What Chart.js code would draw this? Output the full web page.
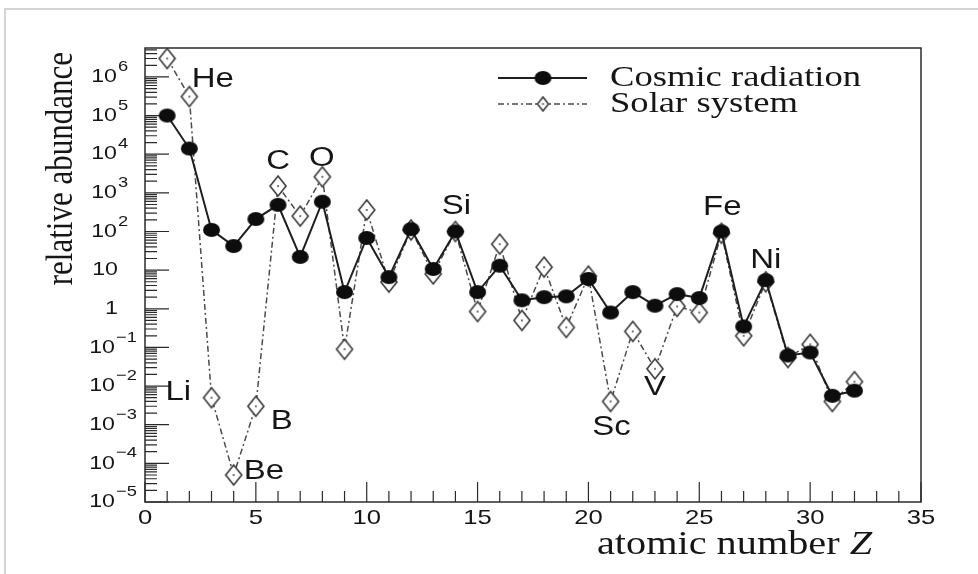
<!DOCTYPE html>
<html>
<head>
<meta charset="utf-8">
<script src="https://cdn.jsdelivr.net/npm/chart.js@4.4.1/dist/chart.umd.min.js"></script>
<style>
  html, body { margin: 0; padding: 0; background: #fff; }
  canvas { display: block; background: #fff; }
</style>
</head>
<body>
<canvas id="chart" width="978" height="574"></canvas>

<script>
  // Element abundances, normalised to Si = 100
  const atomicNumbers = [1, 2, 3, 4, 5, 6, 7, 8, 9, 10, 11, 12, 13, 14, 15, 16,
                         17, 18, 19, 20, 21, 22, 23, 24, 25, 26, 27, 28, 29, 30, 31, 32];
  const cosmicRadiation = [1e5, 1.4e4, 110, 42, 210, 490, 22, 590, 2.7, 68, 6.6, 115, 10.7, 100, 2.7, 13,
                           1.66, 2.0, 2.1, 5.9, 0.8, 2.7, 1.2, 2.4, 1.9, 100, 0.35, 5.5, 0.062, 0.074, 0.0056, 0.0076];
  const solarSystem = [3e6, 3.1e5, 0.005, 5e-5, 0.003, 1500, 250, 2600, 0.09, 360, 4.9, 110, 8, 100, 0.85, 47,
                       0.5, 12, 0.33, 7, 0.004, 0.26, 0.028, 1.15, 0.8, 90, 0.2, 5, 0.055, 0.12, 0.004, 0.013];

  const xTickLabels = [0, 5, 10, 15, 20, 25, 30, 35];
  const yTickExponents = [-5, -4, -3, -2, -1, 0, 1, 2, 3, 4, 5, 6];

  // element names written next to the points (anchor in data units)
  const elementNames = ['He', 'C', 'O', 'Si', 'Li', 'B', 'Be', 'Sc', 'V', 'Fe', 'Ni'];
  const elementLabelZ = [3.06, 6.0, 7.97, 14.05, 1.5, 6.17, 5.36, 21.04, 23.0, 26.04, 28.0];
  const elementLabelValue = [8.4e5, 6.3e3, 7.6e3, 440, 6.6e-3, 1.2e-3, 6.3e-5, 8.3e-4, 8.9e-3, 410, 18];

  const SANS = '"Liberation Sans", Arial, sans-serif';
  const SERIF = '"Liberation Serif", "Times New Roman", serif';
  const STRETCH = 1.22; // the original picture is a bit wider than tall
  const INK = '#161616';

  // marker images (the picture is stretched, so circles are ellipses)
  function makeEllipse(w, h) {
    const c = document.createElement('canvas');
    c.width = w + 2; c.height = h + 2;
    const g = c.getContext('2d');
    g.fillStyle = '#0d0d0d';
    g.beginPath();
    g.ellipse(c.width / 2, c.height / 2, w / 2, h / 2, 0, 0, Math.PI * 2);
    g.fill();
    return c;
  }
  function makeDiamond(w, h) {
    const c = document.createElement('canvas');
    c.width = w + 4; c.height = h + 4;
    const g = c.getContext('2d');
    const cx = c.width / 2, cy = c.height / 2;
    g.beginPath();
    g.moveTo(cx, cy - h / 2);
    g.lineTo(cx + w / 2, cy);
    g.lineTo(cx, cy + h / 2);
    g.lineTo(cx - w / 2, cy);
    g.closePath();
    g.fillStyle = '#fff';
    g.fill();
    g.strokeStyle = '#3a3a3a';
    g.lineWidth = 1.6;
    g.stroke();
    g.fillStyle = '#777';
    g.fillRect(cx - 1, cy - 1, 2, 2);
    return c;
  }
  const dotMarker = makeEllipse(17, 14);
  const diamondMarker = makeDiamond(16, 20);
  const SOLAR_DASH = [6, 3, 2, 3];

  function drawStretched(ctx, text, x, y, font, align, baseline) {
    ctx.save();
    ctx.font = font;
    ctx.textAlign = align;
    ctx.textBaseline = baseline || 'middle';
    ctx.translate(x, y);
    ctx.scale(STRETCH, 1);
    ctx.fillText(text, 0, 0);
    ctx.restore();
  }

  // ROOT-like frame, ticks, labels and legend
  const rootStyle = {
    id: 'rootStyle',
    beforeDatasetsDraw(chart) {
      const { ctx, chartArea: a, scales: { x, y } } = chart;
      ctx.save();
      // page border of the original screenshot
      ctx.strokeStyle = '#d4d4d4';
      ctx.lineWidth = 2;
      ctx.beginPath();
      ctx.moveTo(5, 574); ctx.lineTo(5, 9); ctx.lineTo(978, 9);
      ctx.stroke();

      ctx.strokeStyle = '#2b2b2b';
      ctx.lineWidth = 1.5;
      ctx.strokeRect(a.left, a.top, a.right - a.left, a.bottom - a.top);

      ctx.lineWidth = 1.2;
      ctx.beginPath();
      // x ticks
      for (let z = 0; z <= 35; z++) {
        const px = x.getPixelForValue(z);
        const len = z % 5 === 0 ? 20 : 11;
        ctx.moveTo(px, a.bottom);
        ctx.lineTo(px, a.bottom - len);
      }
      // y ticks (decades and 2..9)
      for (const e of yTickExponents) {
        for (let m = 1; m <= 9; m++) {
          const v = m * Math.pow(10, e);
          if (v > y.max) break;
          const py = y.getPixelForValue(v);
          ctx.moveTo(a.left, py);
          ctx.lineTo(a.left + (m === 1 ? 24 : 12), py);
        }
      }
      ctx.stroke();
      ctx.restore();
    },
    afterDatasetsDraw(chart) {
      const { ctx, scales: { x, y } } = chart;
      ctx.save();
      ctx.fillStyle = INK;

      // x tick labels
      for (const t of xTickLabels) {
        drawStretched(ctx, String(t), x.getPixelForValue(t), 518, '21px ' + SANS, 'center');
      }
      // y tick labels with exponents
      for (const e of yTickExponents) {
        const py = y.getPixelForValue(Math.pow(10, e));
        if (e === 0 || e === 1) {
          drawStretched(ctx, e === 0 ? '1' : '10', 118, py, '19px ' + SANS, 'right');
        } else {
          const right = e < 0 ? 115 : 117;
          drawStretched(ctx, '10', right, py, '19px ' + SANS, 'right');
          drawStretched(ctx, e < 0 ? '\u2212' + (-e) : String(e), right + 1, py - 10, '15px ' + SANS, 'left');
        }
      }

      // axis titles
      ctx.save();
      ctx.font = '31px ' + SERIF;
      ctx.translate(62, 52);
      ctx.rotate(-Math.PI / 2);
      ctx.scale(1, STRETCH);
      ctx.textAlign = 'right';
      ctx.textBaseline = 'middle';
      ctx.fillText('relative abundance', 0, 0);
      ctx.restore();

      const part1 = 'atomic number ';
      ctx.font = '33px ' + SERIF;
      const w1 = ctx.measureText(part1).width * STRETCH;
      drawStretched(ctx, part1, 597, 554, '33px ' + SERIF, 'left', 'alphabetic');
      drawStretched(ctx, 'Z', 597 + w1, 554, 'italic 33px ' + SERIF, 'left', 'alphabetic');

      // element names
      elementNames.forEach((name, i) => {
        drawStretched(ctx, name, x.getPixelForValue(elementLabelZ[i]),
          y.getPixelForValue(elementLabelValue[i]), '27px ' + SANS, 'center');
      });

      // legend
      const ds = chart.data.datasets;
      const rows = [78, 104];
      rows.forEach((ry, i) => {
        ctx.save();
        ctx.strokeStyle = ds[i].borderColor;
        ctx.lineWidth = ds[i].borderWidth;
        ctx.setLineDash(ds[i].borderDash || []);
        ctx.beginPath();
        ctx.moveTo(498, ry); ctx.lineTo(587, ry);
        ctx.stroke();
        ctx.restore();
        const img = i === 0 ? dotMarker : makeDiamond(11, 14);
        ctx.drawImage(img, 543 - img.width / 2, ry - img.height / 2);
        drawStretched(ctx, ds[i].label, 610, ry, '30px ' + SERIF, 'left');
      });
      ctx.restore();
    }
  };

  const ctx = document.getElementById('chart').getContext('2d');
  new Chart(ctx, {
    type: 'line',
    data: {
      datasets: [{
        label: 'Cosmic radiation',
        data: atomicNumbers.map((z, i) => ({ x: z, y: cosmicRadiation[i] })),
        borderColor: '#1e1e1e',
        borderWidth: 2,
        pointStyle: dotMarker,
        tension: 0
      }, {
        label: 'Solar system',
        data: atomicNumbers.map((z, i) => ({ x: z, y: solarSystem[i] })),
        borderColor: '#4a4a4a',
        borderWidth: 1.5,
        borderDash: SOLAR_DASH,
        pointStyle: diamondMarker,
        tension: 0
      }]
    },
    options: {
      responsive: false,
      animation: false,
      layout: { padding: { left: 145, right: 57, top: 48, bottom: 72 } },
      scales: {
        x: { type: 'linear', min: 0, max: 35, display: false },
        y: { type: 'logarithmic', min: 1e-5, max: 5.6e6, display: false }
      },
      plugins: {
        legend: { display: false },
        tooltip: { enabled: false }
      }
    },
    plugins: [rootStyle]
  });
</script>
</body>
</html>
